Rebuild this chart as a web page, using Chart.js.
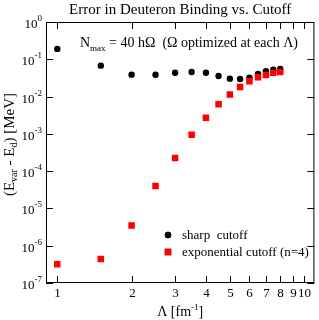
<!DOCTYPE html>
<html lang="en">
<head>
<meta charset="UTF-8">
<title>Error in Deuteron Binding vs. Cutoff</title>
<script src="https://cdn.jsdelivr.net/npm/chart.js"></script>
<style>
  body { margin: 0; background: #fff; }
  canvas { display: block; }
</style>
</head>
<body>
<canvas id="chart" width="319" height="320"></canvas>
<script>
// cutoff values (fm^-1)
const lambdas = [1, 1.5, 2, 2.5, 3, 3.5, 4, 4.5, 5, 5.5, 6, 6.5, 7, 7.5, 8];
// error in MeV
const sharpErr = [0.19, 0.0675, 0.0387, 0.0385, 0.0437, 0.0457, 0.0437, 0.0357, 0.0302, 0.0296, 0.0321, 0.0404, 0.0477, 0.0526, 0.055];
const expErr = [3.2e-7, 4.4e-7, 3.46e-6, 4.0e-5, 2.26e-4, 9.5e-4, 2.7e-3, 6.2e-3, 0.0113, 0.0181, 0.0257, 0.0329, 0.0379, 0.0438, 0.0457];

const xTicks = [1, 2, 3, 4, 5, 6, 7, 8, 9, 10];
const yExps = [0, -1, -2, -3, -4, -5, -6, -7];
const seriesNames = ['sharp  cutoff', 'exponential cutoff (n=4)'];

const serif = '"Liberation Serif", "Times New Roman", serif';

// draw a run of text pieces, each [text, size, dy]
function drawRuns(ctx, x, y, runs) {
  let cx = x;
  for (const [t, size, dy] of runs) {
    ctx.font = size + 'px ' + serif;
    ctx.fillText(t, cx, y + dy);
    cx += ctx.measureText(t).width;
  }
  return cx - x;
}
function runsWidth(ctx, runs) {
  let w = 0;
  for (const [t, size] of runs) {
    ctx.font = size + 'px ' + serif;
    w += ctx.measureText(t).width;
  }
  return w;
}

const frame = {
  id: 'frame',
  afterDraw(chart) {
    const ctx = chart.ctx;
    const a = chart.chartArea;
    const xs = chart.scales.x, ys = chart.scales.y;
    ctx.save();
    ctx.strokeStyle = '#000';
    ctx.fillStyle = '#000';
    ctx.lineWidth = 1;
    ctx.strokeRect(a.left + 0.5, a.top + 0.5, a.right - a.left - 1, a.bottom - a.top - 1);

    // x ticks (bottom + top, inward)
    ctx.textAlign = 'center';
    ctx.textBaseline = 'top';
    ctx.font = '13px ' + serif;
    for (const v of xTicks) {
      const px = Math.round(xs.getPixelForValue(v)) + 0.5;
      ctx.beginPath();
      ctx.moveTo(px, a.bottom); ctx.lineTo(px, a.bottom - 7);
      ctx.moveTo(px, a.top); ctx.lineTo(px, a.top + 7);
      ctx.stroke();
      ctx.fillText(String(v), px, a.bottom + 4);
    }

    // y ticks (left + right, inward)
    for (const e of yExps) {
      const py = Math.round(ys.getPixelForValue(Math.pow(10, e))) + 0.5;
      ctx.beginPath();
      ctx.moveTo(a.left, py); ctx.lineTo(a.left + 7, py);
      ctx.moveTo(a.right, py); ctx.lineTo(a.right - 7, py);
      ctx.stroke();
      const runs = [['10', 13, 5], [String(e), 9, -2]];
      ctx.textAlign = 'left';
      ctx.textBaseline = 'alphabetic';
      const w = runsWidth(ctx, runs);
      drawRuns(ctx, a.left - 4 - w, py, runs);
    }

    // title
    ctx.textAlign = 'center';
    ctx.textBaseline = 'alphabetic';
    ctx.font = '15px ' + serif;
    ctx.fillText('Error in Deuteron Binding vs. Cutoff', (a.left + a.right) / 2, 14);

    // x title
    ctx.textAlign = 'left';
    const xr = [['\u039B [fm', 14, 0], ['-1', 9, -6], [']', 14, 0]];
    const xw = runsWidth(ctx, xr);
    drawRuns(ctx, (a.left + a.right) / 2 - xw / 2, 316, xr);

    // y title (rotated)
    ctx.save();
    ctx.translate(14, (a.top + a.bottom) / 2 - 8);
    ctx.rotate(-Math.PI / 2);
    const yr = [['(E', 15, 0], ['var', 10, 3], [' - E', 15, 0], ['d', 10, 3], [') [MeV]', 15, 0]];
    const yw = runsWidth(ctx, yr);
    drawRuns(ctx, -yw / 2, 0, yr);
    ctx.restore();

    // annotation
    drawRuns(ctx, 80, 47, [['N', 14, 0], ['max', 9, 4], [' = 40 h\u03A9  (\u03A9 optimized at each \u039B)', 14, 0]]);

    // legend
    const ds = chart.data.datasets;
    const lx = 168;
    [[235, ds[0]], [252, ds[1]]].forEach(([ly, d], i) => {
      Chart.helpers.drawPoint(ctx, {
        pointStyle: d.pointStyle, radius: d.pointRadius, rotation: 0, borderWidth: 0
      }, lx, ly);
      ctx.fillStyle = d.backgroundColor;
      ctx.fill();
      ctx.fillStyle = '#000';
      ctx.font = '13px ' + serif;
      ctx.textBaseline = 'middle';
      ctx.fillText(d.label, lx + 14, ly + 1);
    });
    ctx.restore();
  }
};

new Chart(document.getElementById('chart'), {
  type: 'scatter',
  data: {
    datasets: [
      {
        label: seriesNames[0],
        data: lambdas.map((x, i) => ({ x, y: sharpErr[i] })),
        pointStyle: 'circle',
        pointRadius: 3.2,
        backgroundColor: '#000',
        borderWidth: 0,
        order: 2
      },
      {
        label: seriesNames[1],
        data: lambdas.map((x, i) => ({ x, y: expErr[i] })),
        pointStyle: 'rect',
        pointRadius: 4.6,
        backgroundColor: '#ff0000',
        borderWidth: 0,
        order: 1
      }
    ]
  },
  options: {
    responsive: false,
    animation: false,
    layout: { padding: { left: 46, right: 1, top: 22, bottom: 37 } },
    plugins: { legend: { display: false }, tooltip: { enabled: false }, title: { display: false } },
    scales: {
      x: {
        type: 'logarithmic', min: 0.9, max: 11,
        ticks: { display: false }, grid: { display: false, drawTicks: false }, border: { display: false }
      },
      y: {
        type: 'logarithmic', min: 1e-7, max: 1,
        ticks: { display: false }, grid: { display: false, drawTicks: false }, border: { display: false }
      }
    }
  },
  plugins: [frame]
});
</script>
</body>
</html>
